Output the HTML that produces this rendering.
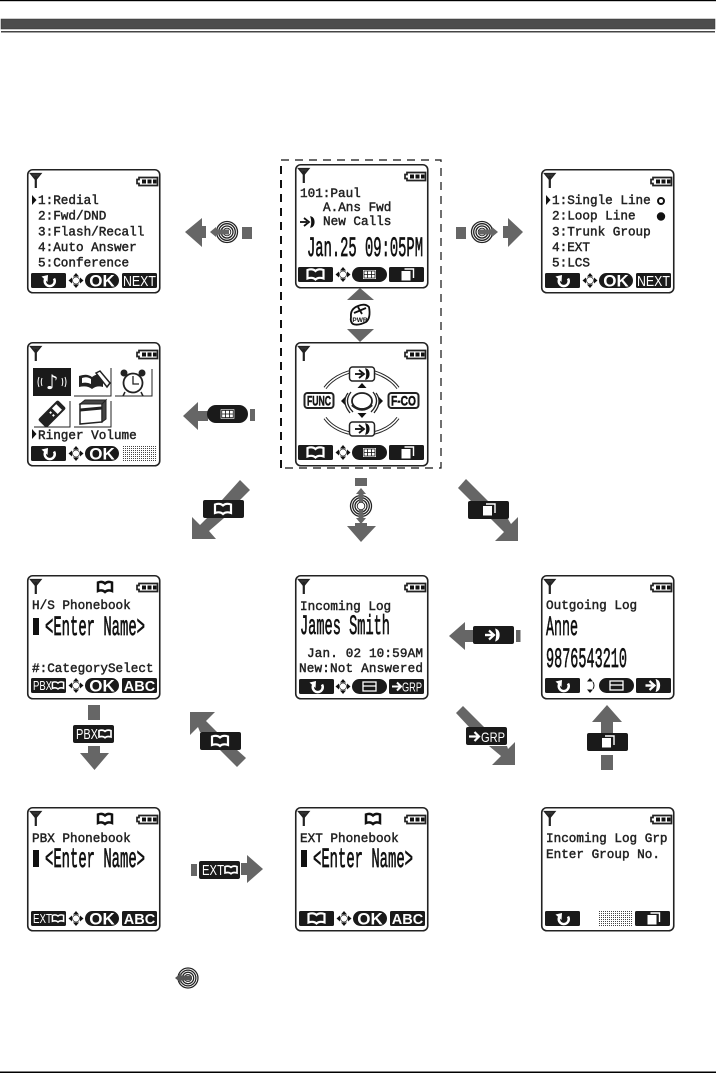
<!DOCTYPE html>
<html><head><meta charset="utf-8"><style>
html,body{margin:0;padding:0;background:#fff}
svg{display:block}
.t{font:12.67px "Liberation Mono",monospace;fill:#222;stroke:#222;stroke-width:.45}
.b{font:28px "Liberation Mono",monospace;fill:#111;stroke:#111;stroke-width:.7}
.k{font:bold 15px "Liberation Sans",sans-serif;fill:#fff;text-anchor:middle}
.n{font:12.5px "Liberation Sans",sans-serif;fill:#fff}
.f{font:bold 14px "Liberation Sans",sans-serif;fill:#111;text-anchor:middle;stroke:#111;stroke-width:.5}
</style></head><body>
<svg width="716" height="1073" viewBox="0 0 716 1073" xmlns="http://www.w3.org/2000/svg">
<defs>
<pattern id="st" width="2" height="2" patternUnits="userSpaceOnUse"><rect width="1" height="1" fill="#444"/></pattern>
<g id="fr"><rect x=".75" y=".75" width="132" height="123" rx="5" fill="#fff" stroke="#222" stroke-width="1.6"/></g>
<g id="ant"><path d="M3.500 4.500H14L8.750 11Z" fill="#333" stroke="#222" stroke-width="1.300"/><rect x="7.700" y="7" width="2.200" height="12" fill="#222"/></g>
<g id="bat"><path d="M112 8.500H130.500V16.500H112V14.500H110V10.500H112Z" fill="#fff" stroke="#222" stroke-width="1.700"/><rect x="115" y="10.500" width="4" height="4" fill="#111"/><rect x="120.500" y="10.500" width="4" height="4" fill="#111"/><rect x="126" y="10.500" width="3.500" height="4" fill="#111"/></g>
<g id="top"><use href="#fr"/><use href="#ant"/><use href="#bat"/></g>
<g id="iback"><path d="M5.500 -2.500A5 5 0 1 1 -3 -2.500" fill="none" stroke="#fff" stroke-width="2.600"/><path d="M-7 -4.500L-.5 -6L-1 1Z" fill="#fff"/></g>
<g id="ibook"><path d="M-8 -4.500C-5 -5.500 -2 -5.500 0 -3.500C2 -5.500 5 -5.500 8 -4.500V4C5 3 2 3 0 5C-2 3 -5 3 -8 4Z" fill="none" stroke="#fff" stroke-width="2.200"/></g>
<g id="bbook"><path d="M-7 -4.500C-4.500 -5.500 -2 -5.500 0 -3.500C2 -5.500 4.500 -5.500 7 -4.500V4C4.500 3 2 3 0 5C-2 3 -4.500 3 -7 4Z" fill="#fff" stroke="#111" stroke-width="2.500"/></g>
<g id="icopy"><rect x="-5" y="-3" width="9" height="9.500" fill="#fff"/><path d="M-2 -5H7V4" fill="none" stroke="#fff" stroke-width="1.400"/></g>
<g id="igrid"><rect x="-6.500" y="-4.500" width="13" height="9" fill="#fff"/><path d="M-5.500 -3.500H5.500V3.500H-5.500ZM-5.500 0H5.500M-2 -3.500V3.500M2 -3.500V3.500" fill="none" stroke="#111" stroke-width=".8"/></g>
<g id="isave"><rect x="-6.500" y="-4.500" width="13" height="9" fill="none" stroke="#fff" stroke-width="1.300"/><path d="M-6.500 -.5H6.500" stroke="#fff" stroke-width="1.300"/></g>
<g id="icall"><path d="M-7 0H0" stroke="#fff" stroke-width="2.400"/><path d="M-3 -4.500L2 0L-3 4.500" fill="none" stroke="#fff" stroke-width="2.200"/><path d="M4 -5.500C8 -4 8 4 4 5.500C5 2 5 -2 4 -5.500Z" fill="#fff" stroke="#fff" stroke-width="1.300"/></g>
<g id="dcall"><path d="M-7 0H0" stroke="#111" stroke-width="1.800"/><path d="M-3 -4L2 0L-3 4" fill="none" stroke="#111" stroke-width="1.800"/><path d="M4 -5C8 -4 8 4 4 5C5 2 5 -2 4 -5Z" fill="#111" stroke="#111" stroke-width="1.200"/></g>
<g id="nav"><circle r="3.500" fill="#fff" stroke="#333" stroke-width=".8"/><path d="M0 -7.500L3 -4H-3ZM0 7.500L3 4H-3ZM-7.500 0L-4 -3V3ZM7.500 0L4 -3V3Z" fill="#111"/></g>
<g id="ok"><rect width="34" height="15" rx="7.500" fill="#1a1a1a"/><text x="17" y="13.500" class="k" style="font-size:17px">OK</text></g>
<g id="pill"><rect width="35" height="15" rx="7.500" fill="#1a1a1a"/></g>
<g id="key"><rect width="35" height="15" rx="1.500" fill="#1a1a1a"/></g>
<g id="back"><use href="#key"/><use href="#iback" x="17.500" y="8"/></g>
<g id="bookk"><use href="#key"/><use href="#ibook" x="17.500" y="7.500"/></g>
<g id="copyk"><use href="#key"/><use href="#icopy" x="17.500" y="7"/></g>
<g id="gridp"><use href="#pill"/><use href="#igrid" x="17.500" y="7.500"/></g>
<g id="savep"><use href="#pill"/><use href="#isave" x="17.500" y="7.500"/></g>
<g id="callk"><use href="#key"/><use href="#icall" x="16.500" y="7.500"/></g>
<g id="lk"><rect width="41" height="18" rx="2" fill="#1a1a1a"/></g>
<g id="jog"><circle r="10.500" fill="#fff" stroke="#222" stroke-width="1.300"/><circle r="8.300" fill="none" stroke="#222" stroke-width="1.300"/><circle r="6" fill="none" stroke="#222" stroke-width="1.300"/><circle r="3.800" fill="#fff" stroke="#222" stroke-width=".9"/></g>
<g id="mk"><path d="M0 -5L4.500 0L0 5Z" fill="#111"/></g>
</defs>

<rect width="716" height="1073" fill="#fff"/>
<rect x="0" y="0" width="716" height="1.200" fill="#000"/>
<rect x="1" y="19" width="714" height="10" fill="#4d4d4d" stroke="#333" stroke-width=".5"/>
<rect x="1" y="31" width="714" height="1.500" fill="#444"/>
<rect x="0" y="1071.500" width="716" height="1.500" fill="#000"/>
<path d="M281 468V160H441V468H281" fill="none" stroke="#111" stroke-width="1.200" stroke-dasharray="8 6"/>
<path d="M281 468V160" fill="none" stroke="#111" stroke-width="2" stroke-dasharray="8 6"/>

<!-- Redial menu -->
<g transform="translate(27,169)"><use href="#top"/><use href="#mk" x="5" y="31"/>
<text class="t" x="11" y="35">1:Redial</text><text class="t" x="11" y="50.700">2:Fwd/DND</text><text class="t" x="11" y="66.400">3:Flash/Recall</text><text class="t" x="11" y="82">4:Auto Answer</text><text class="t" x="11" y="97.700">5:Conference</text>
<use href="#back" x="4" y="104"/><use href="#nav" x="49" y="111.500"/><use href="#ok" x="58" y="104"/><use href="#key" x="95" y="104"/><text class="n" x="112.500" y="117" text-anchor="middle" textLength="33" lengthAdjust="spacingAndGlyphs" style="font-size:15px">NEXT</text></g>

<!-- Standby -->
<g transform="translate(295,164)"><use href="#top"/>
<text class="t" x="5" y="33">101:Paul</text><text class="t" x="28" y="47">A.Ans Fwd</text><use href="#dcall" x="12" y="58"/><text class="t" x="28" y="61">New Calls</text>
<text class="b" x="12" y="92" textLength="116" lengthAdjust="spacingAndGlyphs">Jan.25 09:05PM</text>
<use href="#bookk" x="3" y="103"/><use href="#nav" x="48" y="110.500"/><use href="#gridp" x="57" y="103"/><use href="#copyk" x="94" y="103"/></g>

<!-- Line mode menu -->
<g transform="translate(541,169)"><use href="#top"/><use href="#mk" x="5" y="31"/>
<text class="t" x="11" y="35">1:Single Line</text><text class="t" x="11" y="50.700">2:Loop Line</text><text class="t" x="11" y="66.400">3:Trunk Group</text><text class="t" x="11" y="82">4:EXT</text><text class="t" x="11" y="97.700">5:LCS</text>
<circle cx="120" cy="32" r="3" fill="#fff" stroke="#111" stroke-width="2"/><circle cx="120" cy="47.500" r="4.200" fill="#111"/>
<use href="#back" x="4" y="104"/><use href="#nav" x="49" y="111.500"/><use href="#ok" x="58" y="104"/><use href="#key" x="95" y="104"/><text class="n" x="112.500" y="117" text-anchor="middle" textLength="33" lengthAdjust="spacingAndGlyphs" style="font-size:15px">NEXT</text></g>

<!-- Icons menu -->
<g transform="translate(27,342)"><use href="#top"/>
<rect x="6" y="26" width="38" height="28" fill="#1a1a1a"/>
<text x="25" y="47" text-anchor="middle" style="font:bold 20px 'DejaVu Sans',sans-serif;fill:#fff">♪</text>
<path d="M12 35Q10 40 12 45M15 36Q13.500 40 15 44M35 36Q36.500 40 35 44M38 35Q40 40 38 45" fill="none" stroke="#fff" stroke-width="1"/>
<path d="M47 54H84V26M88 54H125V27M7 85H43V59M47 85H84V59" fill="none" stroke="#222" stroke-width="1"/>
<path d="M52 34Q60 31 65 35Q70 31 76 33V45Q70 43 65 47Q60 43 52 45Z" fill="#222"/><path d="M55 36Q60 34 64 37V42Q60 40 55 41Z" fill="#fff"/><path d="M69 31L73 29L83 41L80 45Z" fill="#fff" stroke="#222" stroke-width="1.500"/>
<circle cx="106" cy="41" r="9.500" fill="#fff" stroke="#222" stroke-width="1.800"/><path d="M106 34V42H112" fill="none" stroke="#222" stroke-width="1.300"/><circle cx="97" cy="31" r="3.500" fill="#222"/><circle cx="115" cy="31" r="3.500" fill="#222"/><path d="M98 50L96 54M114 50L116 54" stroke="#222" stroke-width="1.500"/>
<g transform="rotate(45 25 72)"><rect x="19" y="58" width="12" height="28" rx="2" fill="#222"/><rect x="21" y="62" width="8" height="6" fill="#fff"/><rect x="22" y="71" width="2" height="2" fill="#fff"/><rect x="26" y="71" width="2" height="2" fill="#fff"/></g>
<path d="M53 62L75 60V80L53 82Z" fill="#fff" stroke="#222" stroke-width="1.500"/><path d="M53 62L58 58L79 58L75 62Z M75 62L79 58V77L75 80Z" fill="#444" stroke="#222"/><path d="M53 68L75 66" stroke="#222" stroke-width="3"/>
<use href="#mk" x="5" y="92"/><text class="t" x="11" y="97">Ringer Volume</text>
<use href="#back" x="4" y="104"/><use href="#nav" x="49" y="111.500"/><use href="#ok" x="58" y="104"/><rect x="96" y="104" width="34" height="15" fill="url(#st)"/></g>

<!-- Function screen -->
<g transform="translate(295,342)"><use href="#top"/>
<path d="M30 46Q38 35 54 30M79 30Q95 35 103 46M30 76Q38 87 54 91M79 91Q95 87 103 76" fill="none" stroke="#222" stroke-width="3.500"/>
<path d="M30 46Q38 35 54 30M79 30Q95 35 103 46M30 76Q38 87 54 91M79 91Q95 87 103 76" fill="none" stroke="#fff" stroke-width="1.500"/>
<rect x="54.500" y="25" width="25" height="14" rx="3" fill="#fff" stroke="#222" stroke-width="1.500"/><use href="#dcall" x="67" y="32"/>
<rect x="54.500" y="80" width="25" height="14" rx="3" fill="#fff" stroke="#222" stroke-width="1.500"/><use href="#dcall" x="67" y="87"/>
<rect x="9.500" y="51" width="29" height="15" rx="3" fill="#fff" stroke="#222" stroke-width="2"/><text class="f" x="24" y="63.500" textLength="24" lengthAdjust="spacingAndGlyphs">FUNC</text>
<rect x="93.500" y="51" width="30" height="15" rx="3" fill="#fff" stroke="#222" stroke-width="2"/><text class="f" x="108.500" y="63.500" textLength="25" lengthAdjust="spacingAndGlyphs">F-CO</text>
<path d="M67 41L71.500 46H62.500ZM67 76L71.500 71H62.500ZM46 59L50 55V63ZM88 59L84 55V63Z" fill="#111"/>
<ellipse cx="67" cy="59" rx="10" ry="8" fill="#fff" stroke="#222" stroke-width="1.800"/>
<path d="M56 50Q48 60 58 70M53 51Q46 60 55 71M78 50Q86 60 76 70M81 51Q88 60 79 71" fill="none" stroke="#222" stroke-width="1.300"/><path d="M57 63Q67 72 77 63" fill="none" stroke="#222" stroke-width="2.500"/>
<use href="#bookk" x="3" y="103"/><use href="#nav" x="48" y="110.500"/><use href="#gridp" x="57" y="103"/><use href="#copyk" x="94" y="103"/></g>

<!-- HS phonebook -->
<g transform="translate(27,575)"><use href="#top"/><use href="#bbook" x="78" y="12"/>
<text class="t" x="5" y="34">H/S Phonebook</text><rect x="6" y="43" width="6" height="17" fill="#111"/>
<text class="b" x="18" y="60" textLength="100" lengthAdjust="spacingAndGlyphs">&lt;Enter Name&gt;</text><text class="t" x="5" y="97">#:CategorySelect</text>
<use href="#key" x="4" y="103"/><text class="n" x="6" y="115" textLength="19" lengthAdjust="spacingAndGlyphs" style="font-size:13px">PBX</text><use href="#ibook" transform="translate(31,110.500) scale(.7)"/>
<use href="#nav" x="49" y="110.500"/><use href="#ok" x="58" y="103"/><use href="#key" x="95" y="103"/><text class="k" x="112.500" y="116" style="font-size:14.500px">ABC</text></g>

<!-- Incoming log -->
<g transform="translate(295,575)"><use href="#top"/><text class="t" x="5" y="35">Incoming Log</text>
<text class="b" x="5" y="59" textLength="90" lengthAdjust="spacingAndGlyphs">James Smith</text>
<text class="t" x="12" y="82" textLength="116">Jan. 02 10:59AM</text><text class="t" x="4" y="97" textLength="124">New:Not Answered</text>
<use href="#back" x="4" y="104"/><use href="#nav" x="48" y="111.500"/><use href="#savep" x="57" y="104"/><use href="#key" x="94" y="104"/><path d="M97 111.500H105M102 107.500L106 111.500L102 115.500" fill="none" stroke="#fff" stroke-width="2"/><text class="n" x="107" y="116.500" textLength="20" lengthAdjust="spacingAndGlyphs">GRP</text></g>

<!-- Outgoing log -->
<g transform="translate(541,575)"><use href="#top"/><text class="t" x="5" y="34">Outgoing Log</text>
<text class="b" x="5" y="60" textLength="32" lengthAdjust="spacingAndGlyphs">Anne</text><text class="b" x="5" y="92" textLength="81" lengthAdjust="spacingAndGlyphs">9876543210</text>
<use href="#back" x="4" y="103"/><path d="M49 103L52 106.500H46ZM49 118L52 114.500H46Z" fill="#111"/><path d="M52 107Q54 110.500 52 114" fill="none" stroke="#111"/><use href="#savep" x="58" y="103"/><use href="#callk" x="95" y="103"/></g>

<!-- PBX phonebook -->
<g transform="translate(27,807)"><use href="#top"/><use href="#bbook" x="78" y="12"/><text class="t" x="5" y="35">PBX Phonebook</text><rect x="6" y="43" width="6" height="17" fill="#111"/>
<text class="b" x="18" y="60" textLength="100" lengthAdjust="spacingAndGlyphs">&lt;Enter Name&gt;</text>
<use href="#key" x="4" y="104"/><text class="n" x="6" y="116" textLength="19" lengthAdjust="spacingAndGlyphs" style="font-size:13px">EXT</text><use href="#ibook" transform="translate(31,111.500) scale(.7)"/>
<use href="#nav" x="49" y="111.500"/><use href="#ok" x="58" y="104"/><use href="#key" x="95" y="104"/><text class="k" x="112.500" y="117" style="font-size:14.500px">ABC</text></g>

<!-- EXT phonebook -->
<g transform="translate(295,807)"><use href="#top"/><use href="#bbook" x="78" y="12"/><text class="t" x="5" y="35">EXT Phonebook</text><rect x="6" y="43" width="6" height="17" fill="#111"/>
<text class="b" x="18" y="60" textLength="100" lengthAdjust="spacingAndGlyphs">&lt;Enter Name&gt;</text>
<use href="#bookk" x="4" y="104"/><use href="#nav" x="49" y="111.500"/><use href="#ok" x="58" y="104"/><use href="#key" x="95" y="104"/><text class="k" x="112.500" y="117" style="font-size:14.500px">ABC</text></g>

<!-- Group -->
<g transform="translate(541,807)"><use href="#top"/><text class="t" x="5" y="35">Incoming Log Grp</text><text class="t" x="5" y="51">Enter Group No.</text>
<use href="#back" x="4" y="104"/><rect x="58" y="104" width="33" height="15" fill="url(#st)"/><use href="#copyk" x="94" y="104"/></g>

<!-- Arrows -->
<g fill="#666">
<polygon points="185,232 202,218 202,226 206,226 206,238 202,238 202,247"/><rect x="242" y="227" width="10" height="12"/>
<use href="#jog" x="227" y="232"/><polygon points="210,232 216,227 216,229.500 229,229.500 229,234.500 216,234.500 216,237"/>
<rect x="456" y="227" width="10" height="12"/><use href="#jog" x="482" y="232"/><polygon points="498,232 492,227 492,229.500 479,229.500 479,234.500 492,234.500 492,237"/>
<polygon points="523,232 508,218 508,226 503,226 503,238 508,238 508,247"/>
<polygon points="360,288 374,300 347,300"/><polygon points="360,342 374,329 347,329"/>
<polygon points="183,416 198,402 198,411 208,411 208,421 198,421 198,430"/><rect x="250" y="409" width="5" height="12"/>
<polygon points="240,480 250,490 240,500 222,500"/><polygon points="192,539 192,517 200,525 207,518 224,518 209,531 216,539"/>
<rect x="355" y="478" width="12" height="8"/><polygon points="355,523 367,523 367,526 376,526 361,542 347,526 355,526"/>
<polygon points="458,488 466,479 488,501 471,501"/><polygon points="518,541 495,541 504,532 491,519 508,519 511,524 518,517"/>
<polygon points="449,636 465,622 465,630 474,630 474,642 465,642 465,650"/><rect x="516" y="630" width="4.500" height="12"/>
<polygon points="607,705 622,722 613,722 613,734 601,734 601,722 592,722"/><rect x="601" y="755" width="12" height="15"/>
<polygon points="456,713 463,706 485,728 470,728"/><polygon points="515,765 492,765 501,756 489,746 507,746 508,749 515,742"/>
<rect x="88" y="705" width="12" height="15"/><polygon points="88,746 100,746 100,753 109,753 94.500,770 80,753 88,753"/>
<polygon points="190,712 215,712 206,721 217,732 200,732 198,727 190,735"/><polygon points="246,758 237,767 219,749 236,749"/>
<rect x="191" y="864" width="6" height="12"/><polygon points="241,863 247,863 247,855 263,869 247,883 247,875 241,875"/>
</g>

<use href="#jog" x="361" y="506"/><g fill="#666"><polygon points="361,488 366,494 363.500,494 363,502 359,502 358.500,494 356,494"/><polygon points="361,524 366,518 363.500,518 363,510 359,510 358.500,518 356,518"/></g>
<use href="#jog" transform="translate(188,978) scale(.95)"/><polygon points="175,978 181,973 181,975.500 191,975.500 191,980.500 181,980.500 181,983" fill="#555"/>

<!-- Power key -->
<path d="M351 317Q350 309 358 306Q365 303 369 307Q371 318 366 322Q358 326 353 324Q350 322 351 317Z" fill="#fff" stroke="#111" stroke-width="1.800"/>
<path d="M354 313L366 308M358 307L362 314" stroke="#111" stroke-width="1.800"/><text x="360" y="322" text-anchor="middle" style="font:bold 6.500px 'Liberation Sans',sans-serif;fill:#111">PWR</text>

<!-- Grey-arrow keys -->
<rect x="207" y="405" width="41" height="18" rx="9" fill="#1a1a1a"/><use href="#igrid" transform="translate(227.500,414) scale(1.050)"/>
<use href="#lk" x="203" y="500"/><use href="#ibook" x="223" y="509"/>
<use href="#lk" x="468" y="501"/><use href="#icopy" x="488" y="509"/>
<use href="#lk" x="473" y="626"/><use href="#icall" x="492" y="635"/>
<use href="#lk" x="587" y="733"/><use href="#icopy" x="607" y="741"/>
<use href="#lk" x="466" y="727"/><path d="M469 736.500H478M474.500 732L479 736.500L474.500 741" fill="none" stroke="#fff" stroke-width="2.200"/><text class="n" x="481" y="742" textLength="24" lengthAdjust="spacingAndGlyphs" style="font-size:14px">GRP</text>
<use href="#lk" x="73" y="725"/><text class="n" x="76" y="739" textLength="22" lengthAdjust="spacingAndGlyphs" style="font-size:15px">PBX</text><use href="#ibook" transform="translate(105,734) scale(.75)"/>
<use href="#lk" x="200" y="732"/><use href="#ibook" x="220" y="741"/>
<use href="#lk" x="199" y="861"/><text class="n" x="202" y="875" textLength="22" lengthAdjust="spacingAndGlyphs" style="font-size:15px">EXT</text><use href="#ibook" transform="translate(231,870) scale(.75)"/>
</svg>
</body></html>
